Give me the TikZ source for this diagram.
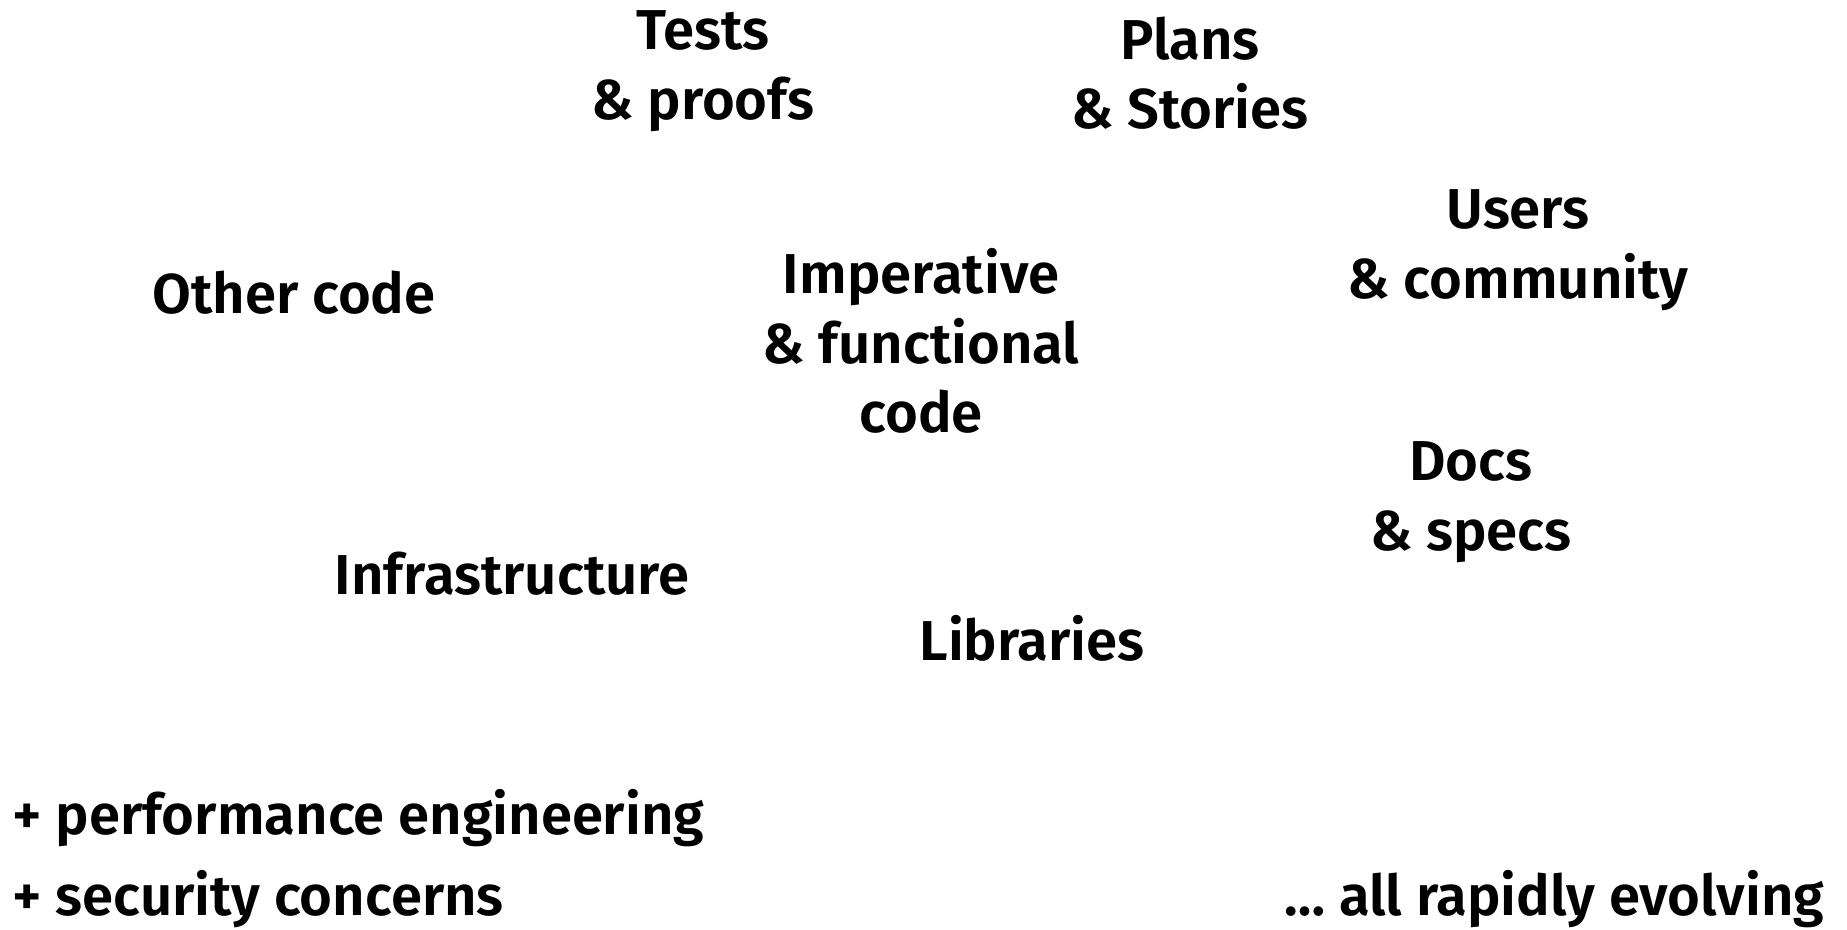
\documentclass[tikz,border=0pt]{standalone}
\usepackage{fontspec}
\setmainfont{Fira Sans}[UprightFont={* SemiBold}]
\begin{document}
\begin{tikzpicture}[topic/.style={align=center, inner sep=0pt, font=\fontsize{16}{19.8}\selectfont}]
\useasboundingbox (0,0) rectangle (18.47,-9.29);
\node[topic] (tests) at (7.03,-0.71){Tests\\\& proofs};
\node[topic] (plans) at (11.90,-0.73){Plans\\\& Stories};
\node[topic] (users) at (15.18,-2.50){Users\\\& community};
\node[topic] (other) at (2.94,-2.93){Other code};
\node[topic] (core) at (9.21,-3.41){Imperative\\\& functional\\code};
\node[topic] (docs) at (14.71,-5.02){Docs\\\& specs};
\node[topic] (infra) at (5.12,-5.74){Infrastructure};
\node[topic] (libs) at (10.32,-6.38){Libraries};
\node[topic, anchor=west] (perf) at (0.12,-8.18){+ performance engineering};
\node[topic, anchor=west] (sec) at (0.12,-8.99){+ security concerns};
\node[topic, anchor=east] (evolve) at (18.25,-8.99){\dots{} all rapidly evolving};
\end{tikzpicture}
\end{document}
